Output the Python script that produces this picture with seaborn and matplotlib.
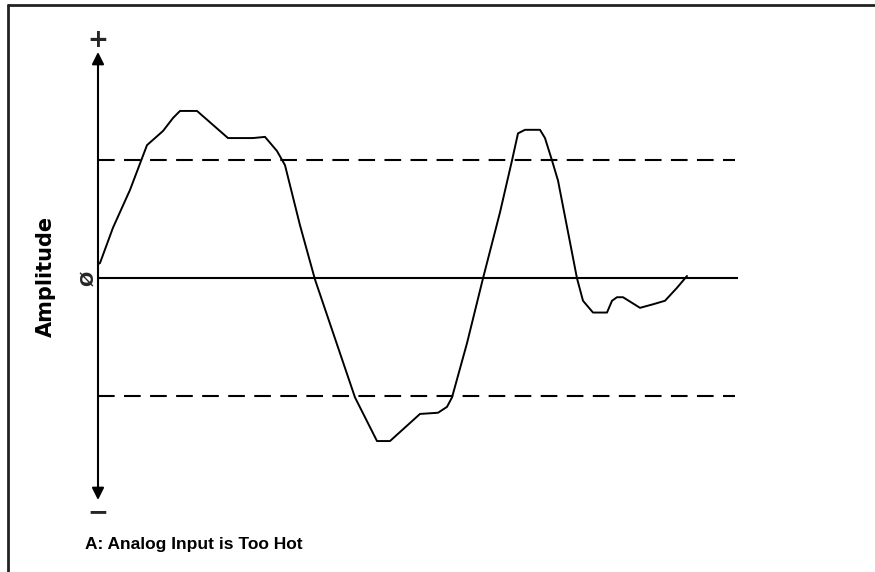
import seaborn as sns
import pandas as pd
import numpy as np
import matplotlib.pyplot as plt
from matplotlib import font_manager
from matplotlib.lines import Line2D

# waveform (time in arbitrary units, amplitude relative to threshold)
time = [0, 2, 15, 32, 49, 65, 75, 82, 99, 130, 155, 167, 179, 187, 202, 217,
        257, 279, 292, 322, 340, 349, 354, 369, 385, 402, 414, 420, 427, 442,
        447, 454, 460, 479, 485, 495, 509, 514, 519, 525, 542, 555, 567, 579, 589]
amplitude = [0.12, 0.13, 0.43, 0.75, 1.13, 1.25, 1.36, 1.42, 1.42, 1.19, 1.19, 1.20,
             1.08, 0.96, 0.45, -0.01, -1.01, -1.38, -1.38, -1.15, -1.14, -1.09, -1.01,
             -0.55, 0.0, 0.56, 1.0, 1.23, 1.26, 1.26, 1.19, 1.0, 0.83, 0.0, -0.19,
             -0.29, -0.29, -0.19, -0.16, -0.16, -0.25, -0.22, -0.19, -0.08, 0.02]
threshold_hi = 1.0
threshold_lo = -1.0
y_label = "Amplitude"
zero_label = "Ø"
caption = "A: Analog Input is Too Hot"

sns.set_style("white")
plt.rcParams['font.family'] = ['DejaVu Sans']

# narrow face for the caption if there is one
names = {f.name for f in font_manager.fontManager.ttflist}
if "Liberation Sans Narrow" in names:
    cap_font, cap_size = "Liberation Sans Narrow", 14.5
else:
    cap_font, cap_size = "Liberation Sans", 12.5

fig = plt.figure(figsize=(8.75, 5.72), dpi=100)
ax = fig.add_axes([98 / 875, 1 - 500 / 572, 640 / 875, 448 / 572])
ax.set_xlim(0, 640)
ax.set_ylim(-1.88, 1.92)

df = pd.DataFrame({"t": time, "a": amplitude})
sns.lineplot(data=df, x="t", y="a", ax=ax, color="black", lw=1.4, sort=False)

ax.axhline(0, color="black", lw=1.5)
ax.plot([0, 637], [threshold_hi, threshold_hi], color="black", lw=1.5, dashes=(8, 4.5))
ax.plot([0, 637], [threshold_lo, threshold_lo], color="black", lw=1.5, dashes=(8, 4.5))

# vertical amplitude axis with arrow heads
ax.annotate("", xy=(0, 1.92), xytext=(0, -1.88),
            arrowprops=dict(arrowstyle="<|-|>", color="black", lw=1.5,
                            mutation_scale=18, shrinkA=0, shrinkB=0),
            annotation_clip=False)
ax.text(0, 2.02, "+", ha="center", va="center", fontsize=18, fontweight="bold",
        clip_on=False)
ax.text(0, -1.98, "−", ha="center", va="center", fontsize=18, fontweight="bold",
        clip_on=False)
ax.text(-10, 0, zero_label, ha="center", va="center", rotation=90, fontsize=13,
        fontweight="bold", clip_on=False)

ax.set_xlabel("")
ax.set_ylabel(y_label, fontsize=15, fontweight="bold", labelpad=30, color="black")
ax.set_xticks([])
ax.set_yticks([])
for s in ax.spines.values():
    s.set_visible(False)

fig.text(85 / 875, 1 - 545 / 572, caption, ha="left", va="center", fontsize=cap_size,
         fontweight="bold", family=cap_font, color="black")

# frame lines along top and left edge
fig.add_artist(Line2D([8 / 875, 1], [1 - 5 / 572, 1 - 5 / 572], color="#222222", lw=2))
fig.add_artist(Line2D([8 / 875, 8 / 875], [0, 1 - 5 / 572], color="#222222", lw=2))

fig.savefig("out.png", dpi=100)
